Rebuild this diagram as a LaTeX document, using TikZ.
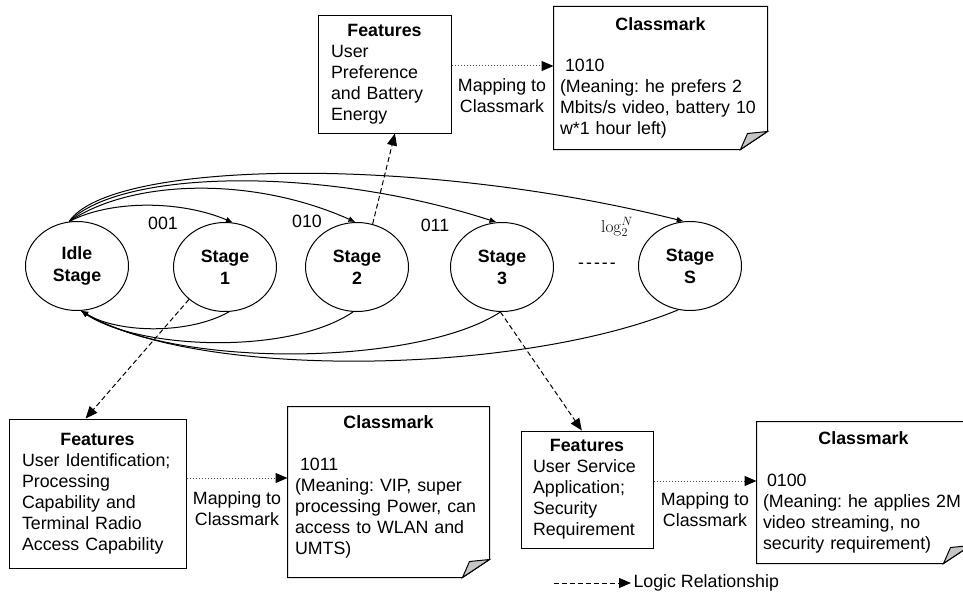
\documentclass[tikz,border=0pt]{standalone}
\usepackage[no-math]{fontspec}
\setmainfont{Liberation Sans}
\usepackage{tikz}
\usetikzlibrary{shapes,arrows.meta,positioning,calc}
\frenchspacing

\begin{document}
\begin{tikzpicture}[x=1pt,y=-1pt,line width=1pt,
  txt/.style={font=\fontsize{17.8}{21}\selectfont},
  stagenode/.style={ellipse,draw,minimum width=103pt,minimum height=89pt,inner sep=0pt,
    align=center,font=\fontsize{17.8}{22}\selectfont\bfseries},
  featbox/.style={rectangle,draw,align=left,inner xsep=13pt,inner ysep=0pt,
    font=\fontsize{17.8}{21}\selectfont},
  notebox/.style={rectangle,align=left,inner xsep=6pt,inner ysep=0pt,
    minimum width=213pt,font=\fontsize{17.8}{21}\selectfont},
  trans/.style={-{Latex[length=7pt,width=6pt]}},
  logic/.style={dash pattern=on 5pt off 3pt,-{Triangle[length=12pt,width=10pt]}},
  mapping/.style={dotted,black!70,-{Triangle[length=12pt,width=10pt,black]}}]
\useasboundingbox (0,0) rectangle (963,599);

% Stages
\node[stagenode] (idle) at (77,266) {Idle\\Stage};
\node[stagenode] (s1) at (225,267) {Stage\\1};
\node[stagenode] (s2) at (357,267) {Stage\\2};
\node[stagenode] (s3) at (502,267) {Stage\\3};
\node[stagenode] (ss) at (690,266) {Stage\\S};

\node[txt] (c001) at (163,223) {001};
\node[txt] (c010) at (307,221) {010};
\node[txt] (c011) at (435,225) {011};
\node[txt] (clog) at (617,227) {$\log_2^N$};
\node[txt] (dots) at (597,266) {-\kern2pt-\kern2pt-\kern2pt-\kern2pt-};

% Idle -> stages
\draw[trans] (idle.100) .. controls (110,200) and (180,200) .. (s1.80);
\draw[trans] (idle.100) .. controls (130,180) and (250,175) .. (s2.92);
\draw[trans] (idle.100) .. controls (120,170) and (320,165) .. (s3.97);
\draw[trans] (idle.100) .. controls (110,160) and (420,155) .. (ss.98);

% stages -> Idle
\draw[trans] (s1.275) .. controls (190,334) and (120,334) .. (idle.275);
\draw[trans] (s2.265) .. controls (290,355) and (140,350) .. (idle.275);
\draw[trans] (s3.268) .. controls (420,365) and (180,370) .. (idle.275);
\draw[trans] (ss.255) .. controls (520,375) and (200,380) .. (idle.275);

% Features
\node[featbox,text width=107pt,minimum height=117pt] (feat2) at (384.5,74.5)
  {\makebox[\linewidth]{\bfseries Features}\\User\\Preference\\and Battery\\Energy};
\node[featbox,text width=151pt,minimum height=149pt] (feat1) at (97.5,493.5)
  {\makebox[\linewidth]{\bfseries Features}\\User Identification;\\Processing\\Capability and\\Terminal Radio\\Access Capability};
\node[featbox,inner xsep=12pt,text width=108pt,minimum height=117pt] (feat3) at (587,489.5)
  {\makebox[\linewidth]{\bfseries Features}\\User Service\\Application;\\Security\\Requirement};

% Classmarks
\node[notebox,text width=201pt,minimum height=142pt] (cm2) at (660.5,78)
  {\makebox[\linewidth]{\bfseries Classmark}\\[20pt]\hspace*{5pt}1010\\(Meaning: he prefers 2\\Mbits/s video, battery 10\\w*1 hour left)};
\node[notebox,inner xsep=7pt,minimum width=201pt,text width=187pt,minimum height=170pt] (cm1) at (388.5,492)
  {\makebox[\linewidth]{\bfseries Classmark}\\[21pt]\hspace*{5pt}1011\\(Meaning: VIP, super\\processing Power, can\\access to WLAN and\\UMTS)\\[-7.5pt]\mbox{}};
\node[notebox,text width=201pt,minimum height=141pt] (cm3) at (863.5,492.5)
  {\makebox[\linewidth]{\bfseries Classmark}\\[21pt]\hspace*{4pt}0100\\(Meaning: he applies 2M\\video streaming, no\\security requirement)};

\foreach \n in {cm1,cm2,cm3}{
  \draw (\n.north west) -- (\n.north east) -- ([yshift=18pt]\n.south east)
    -- ([xshift=-27pt]\n.south east) -- (\n.south west) -- cycle;
  \filldraw[fill=gray!45] ([yshift=18pt]\n.south east) -- ([xshift=-27pt]\n.south east)
    -- ([xshift=-20pt,yshift=16pt]\n.south east) -- cycle;
}

% Logic relationships
\draw[logic] (s2.70) -- (feat2.-80);
\draw[logic] (s1.222) -- (feat1.99);
\draw[logic] (s3.268) -- (feat3.95);

% Mapping
\draw[mapping] ([yshift=8.5pt]feat2.east) -- ([yshift=12pt]cm2.west);
\draw[mapping] ([yshift=15.5pt]feat1.east) -- ([yshift=14pt]cm1.west);
\draw[mapping] ([yshift=8.5pt]feat3.east) -- ([yshift=11.5pt]cm3.west);
\node[txt,align=center] (map2) at (502,96) {Mapping to\\Classmark};
\node[txt,align=center] (map1) at (237,509) {Mapping to\\Classmark};
\node[txt,align=center] (map3) at (705,510) {Mapping to\\Classmark};

% Legend
\coordinate (legstart) at (554,583);
\node[txt,anchor=west,inner sep=2pt] (legend) at (631,583) {Logic Relationship};
\draw[logic] (legstart) -- (legend.west);
\end{tikzpicture}
\end{document}
